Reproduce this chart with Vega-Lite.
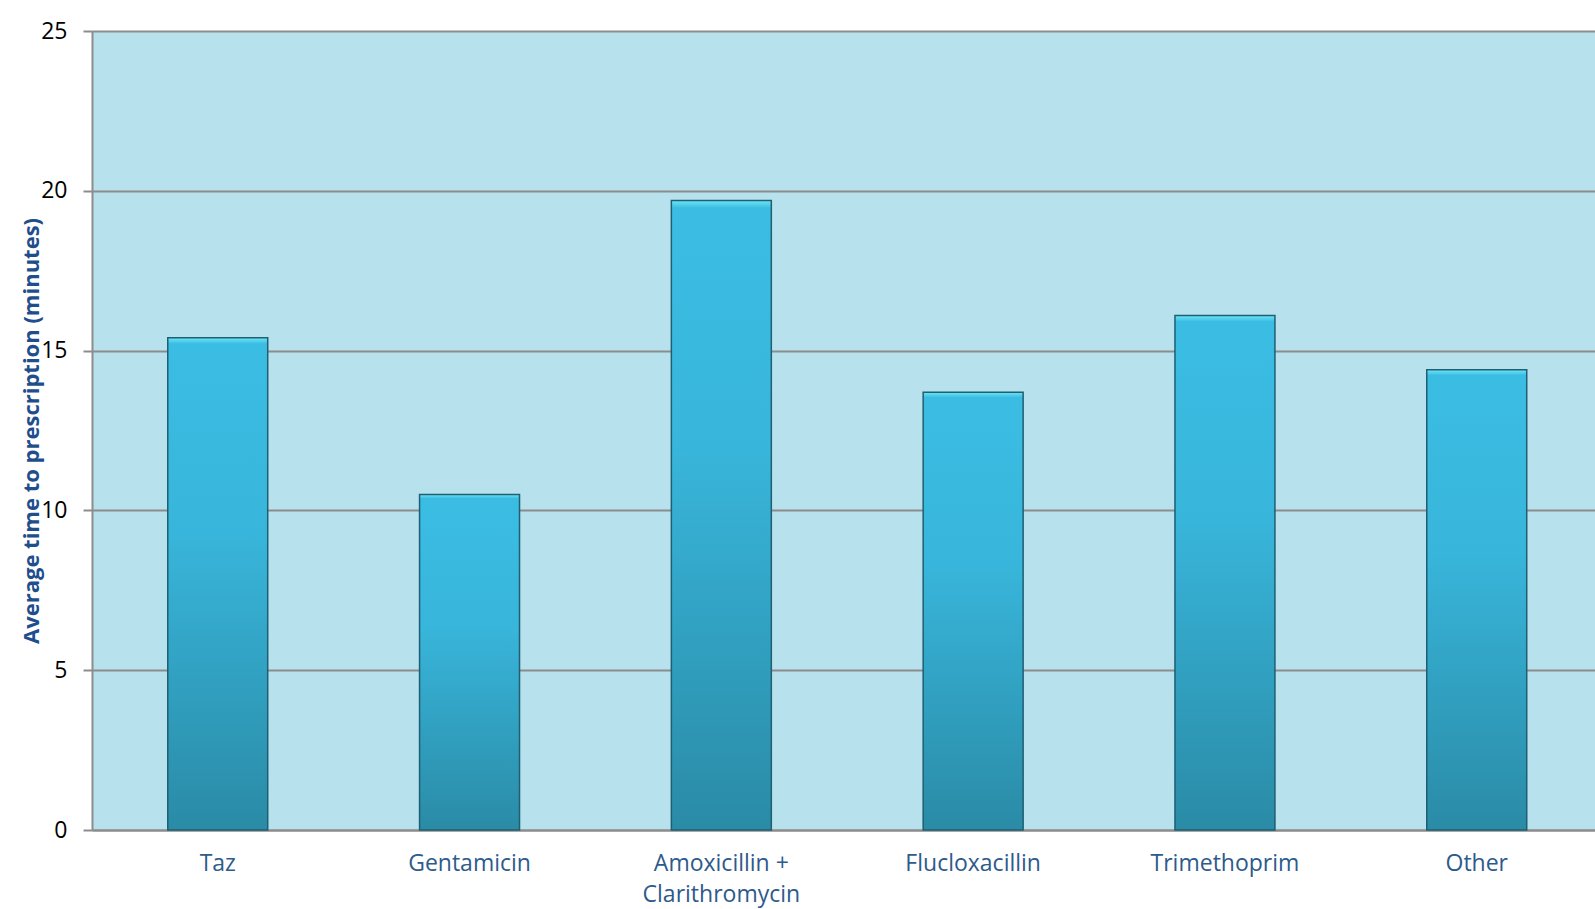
{
  "$schema": "https://vega.github.io/schema/vega-lite/v6.json",
  "width": 1503,
  "height": 799,
  "autosize": {"type": "none"},
  "padding": {"left": 92, "top": 31, "right": 0, "bottom": 79},
  "background": "white",
  "config": {
    "view": {"fill": "#B8E1EE", "stroke": null},
    "font": "Open Sans"
  },
  "data": {
    "values": [
      {"drug": "Taz", "minutes": 15.4},
      {"drug": "Gentamicin", "minutes": 10.5},
      {"drug": "Amoxicillin + Clarithromycin", "minutes": 19.7},
      {"drug": "Flucloxacillin", "minutes": 13.7},
      {"drug": "Trimethoprim", "minutes": 16.1},
      {"drug": "Other", "minutes": 14.4}
    ]
  },
  "mark": {
    "type": "bar",
    "stroke": "#1E5F72",
    "strokeWidth": 1.5,
    "color": {
      "x1": 0, "y1": 0, "x2": 0, "y2": 1,
      "gradient": "linear",
      "stops": [
        {"offset": 0, "color": "#6FE6F7"},
        {"offset": 0.012, "color": "#3BBDE3"},
        {"offset": 0.4, "color": "#38B5DA"},
        {"offset": 1, "color": "#2A8BA6"}
      ]
    }
  },
  "encoding": {
    "x": {
      "field": "drug",
      "type": "nominal",
      "sort": null,
      "scale": {"paddingInner": 0.603, "paddingOuter": 0.286, "align": 0.526},
      "axis": {
        "title": null,
        "labelAngle": 0,
        "labelFontSize": 23,
        "labelColor": "#2E5A8C",
        "labelPadding": 22,
        "labelLineHeight": 31,
        "ticks": false,
        "domainColor": "#8C8C8C",
        "domainWidth": 2,
        "labelExpr": "datum.label == 'Amoxicillin + Clarithromycin' ? ['Amoxicillin +', 'Clarithromycin'] : datum.label"
      }
    },
    "y": {
      "field": "minutes",
      "type": "quantitative",
      "scale": {"domain": [0, 25], "nice": false},
      "axis": {
        "title": "Average time to prescription (minutes)",
        "titleFontSize": 22,
        "titleFontWeight": "bold",
        "titleColor": "#1F4E8C",
        "titlePadding": -3,
        "values": [0, 5, 10, 15, 20, 25],
        "labelFontSize": 23,
        "labelColor": "#000000",
        "labelPadding": 16,
        "tickSize": 9,
        "tickColor": "#8C8C8C",
        "tickWidth": 2,
        "domainColor": "#8C8C8C",
        "domainWidth": 2,
        "gridColor": "#8C8C8C",
        "gridWidth": 2,
        "gridOpacity": 1
      }
    }
  }
}
